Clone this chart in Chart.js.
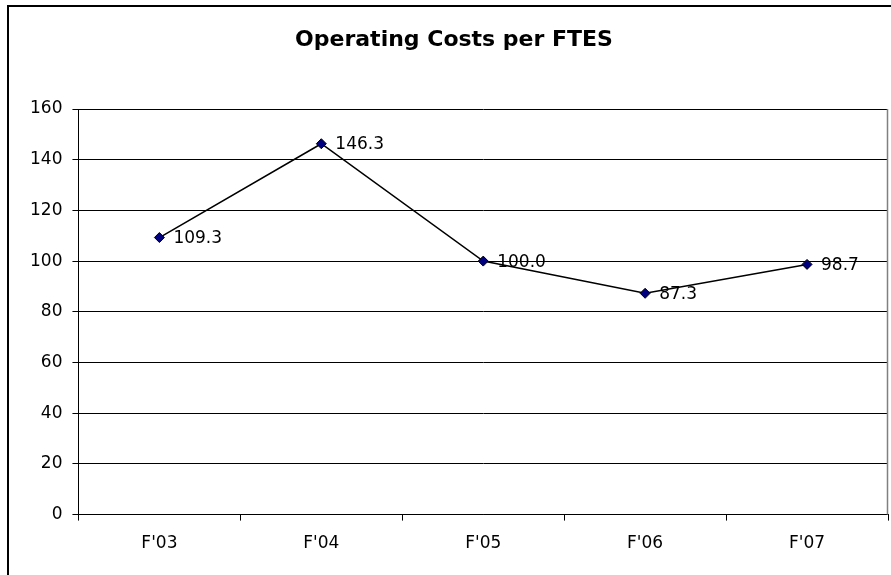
<!DOCTYPE html>
<html>
<head>
<meta charset="utf-8">
<script src="https://cdn.jsdelivr.net/npm/chart.js@4.4.1/dist/chart.umd.min.js"></script>
<style>
html,body{margin:0;padding:0;background:#fff;}
canvas{display:block;}
</style>
</head>
<body>
<canvas id="c" width="891" height="575"></canvas>
<script>
const categories = ["F'03", "F'04", "F'05", "F'06", "F'07"];
const costs = [109.3, 146.3, 100.0, 87.3, 98.7];
const yTicks = [0, 20, 40, 60, 80, 100, 120, 140, 160];
const chartTitle = "Operating Costs per FTES";

Chart.defaults.font.family = "'DejaVu Sans', sans-serif";
Chart.defaults.color = '#000';

const framePlugin = {
  id: 'frame',
  beforeDraw(chart) {
    const ctx = chart.ctx;
    ctx.save();
    ctx.fillStyle = '#fff';
    ctx.fillRect(0, 0, chart.width, chart.height);
    ctx.restore();
  },
  afterDraw(chart) {
    const ctx = chart.ctx, a = chart.chartArea;
    ctx.save();
    ctx.strokeStyle = '#000';
    ctx.lineWidth = 2;
    ctx.beginPath();
    ctx.moveTo(8, chart.height);
    ctx.lineTo(8, 6);
    ctx.lineTo(chart.width, 6);
    ctx.stroke();
    ctx.strokeStyle = '#808080';
    ctx.lineWidth = 1.5;
    ctx.beginPath();
    ctx.moveTo(Math.round(a.right) - 0.5, a.top);
    ctx.lineTo(Math.round(a.right) - 0.5, a.bottom);
    ctx.stroke();
    ctx.restore();
  }
};

const labelPlugin = {
  id: 'pointLabels',
  afterDatasetsDraw(chart) {
    const ctx = chart.ctx;
    const meta = chart.getDatasetMeta(0);
    ctx.save();
    ctx.font = "17px 'DejaVu Sans', sans-serif";
    ctx.fillStyle = '#000';
    ctx.textAlign = 'left';
    ctx.textBaseline = 'middle';
    meta.data.forEach((pt, i) => {
      ctx.fillText(costs[i].toFixed(1), pt.x + 14, pt.y + 1);
    });
    ctx.restore();
  }
};

new Chart(document.getElementById('c'), {
  type: 'line',
  data: {
    labels: categories,
    datasets: [{
      data: costs,
      borderColor: '#000',
      borderWidth: 1.5,
      tension: 0,
      pointStyle: 'rectRot',
      pointRadius: 5,
      pointHoverRadius: 5,
      pointBackgroundColor: '#000080',
      pointBorderColor: '#000',
      pointBorderWidth: 1
    }]
  },
  options: {
    responsive: false,
    animation: false,
    devicePixelRatio: 1,
    layout: { autoPadding: false, padding: { top: 0, left: 20, right: 3, bottom: 8 } },
    plugins: {
      legend: { display: false },
      tooltip: { enabled: false },
      title: {
        display: true,
        text: chartTitle,
        color: '#000',
        font: { size: 22, weight: 'bold', family: "'DejaVu Sans', sans-serif" },
        padding: { top: 27, bottom: 55.6 }
      }
    },
    scales: {
      x: {
        offset: true,
        afterFit(scale) { scale.paddingLeft = 0; scale.paddingRight = 0; },
        grid: {
          offset: true,
          drawOnChartArea: false,
          drawTicks: true,
          tickLength: 6,
          color: '#000'
        },
        border: { display: true, color: '#000', width: 1 },
        ticks: { padding: 13, font: { size: 17 }, color: '#000' }
      },
      y: {
        min: 0,
        max: 160,
        afterBuildTicks(scale) { scale.ticks = yTicks.map(v => ({ value: v })); },
        grid: {
          color: '#000',
          lineWidth: 1,
          drawTicks: true,
          tickLength: 6
        },
        border: { display: true, color: '#000', width: 1 },
        ticks: { padding: 10, font: { size: 17 }, color: '#000' }
      }
    }
  },
  plugins: [framePlugin, labelPlugin]
});
</script>
</body>
</html>
